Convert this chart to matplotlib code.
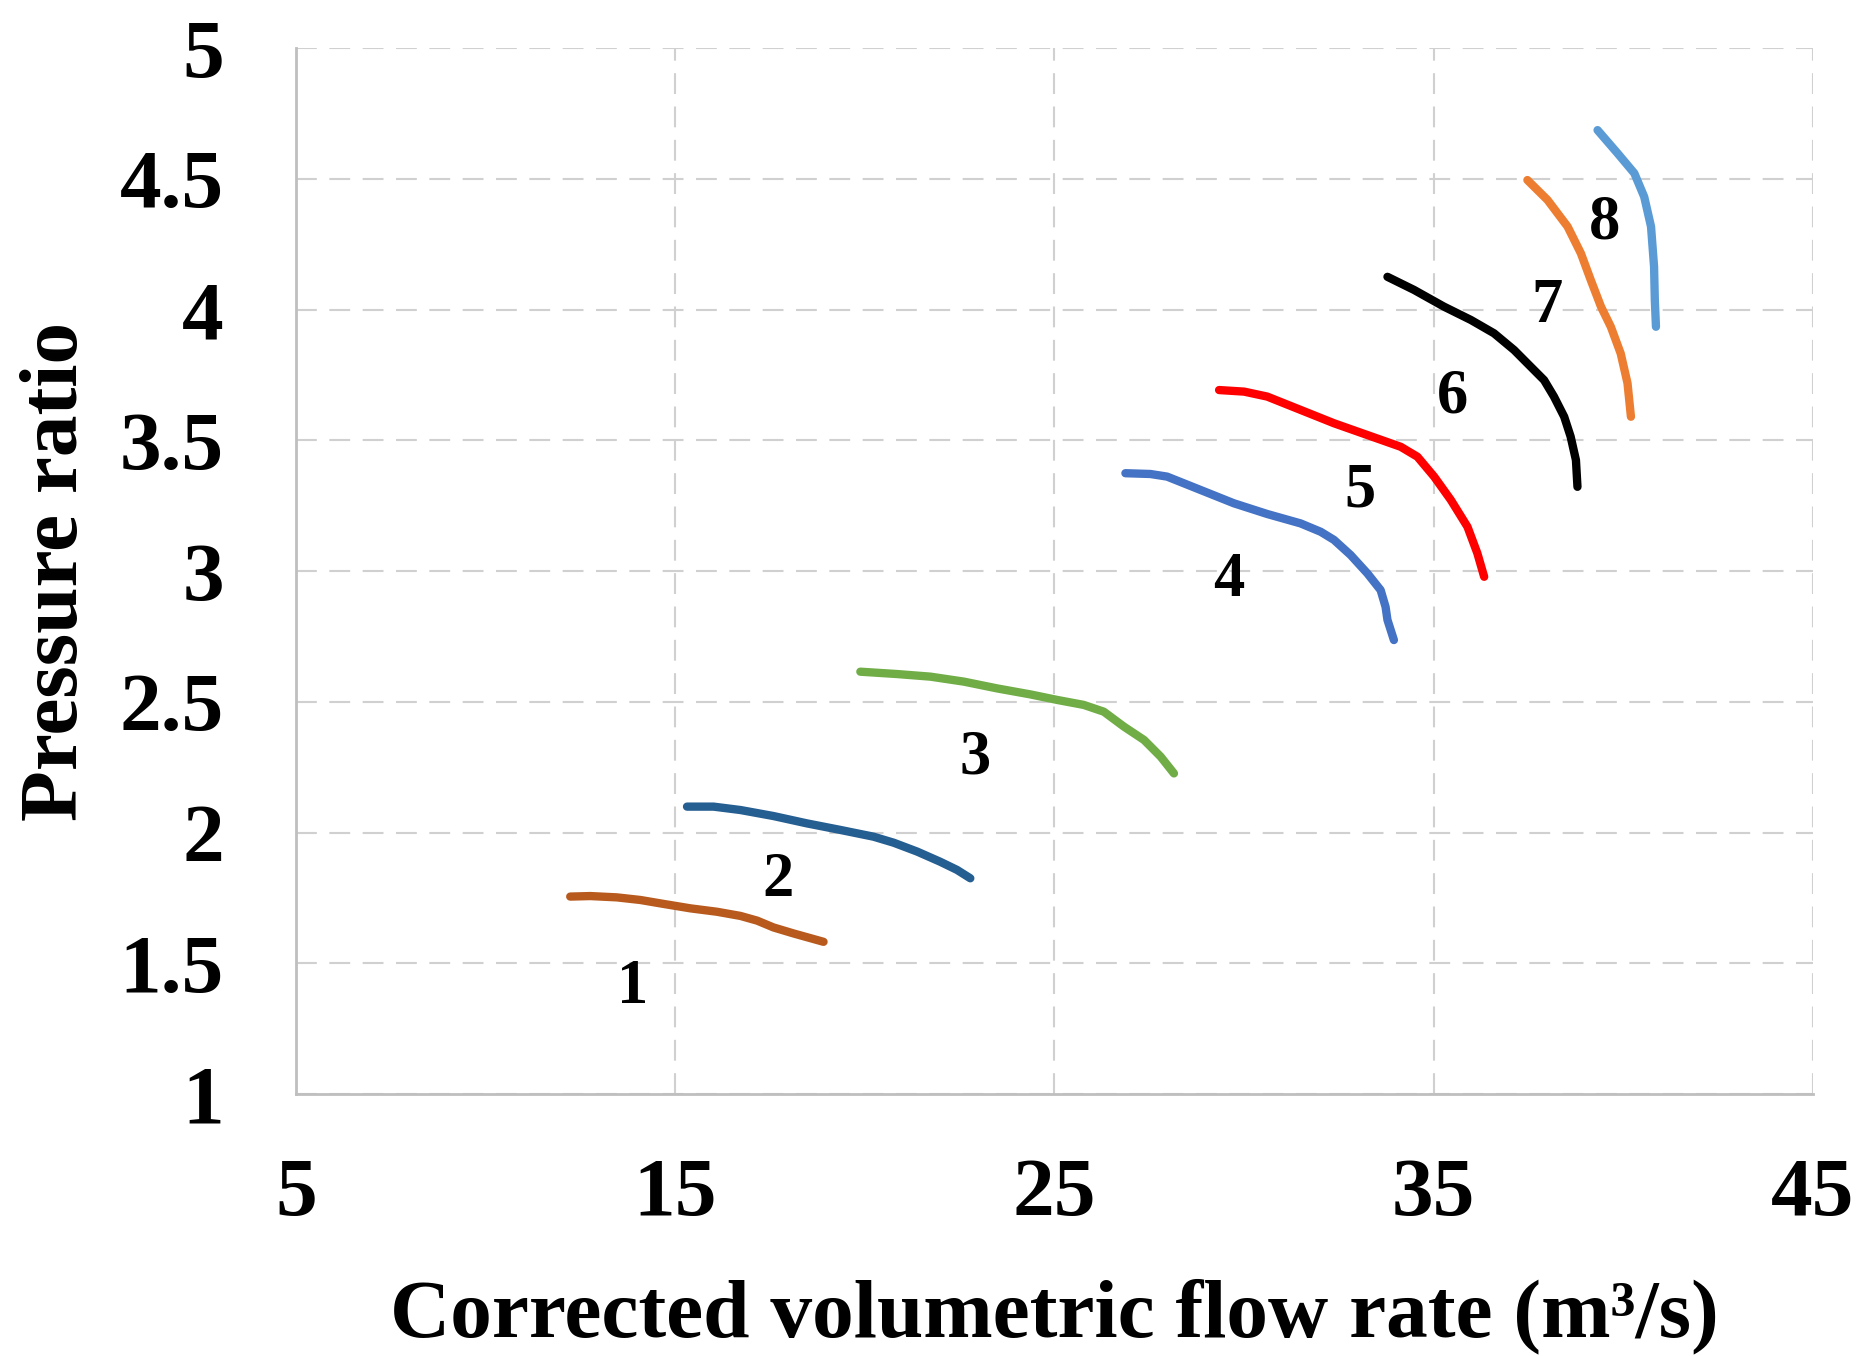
import matplotlib
matplotlib.use("Agg")
from matplotlib import pyplot as plt

# данные кривых
flow_1 = [12.23, 12.76, 13.46, 14.08, 14.69, 15.40, 16.10, 16.72, 17.16, 17.59, 18.12, 18.91]
pr_1 = [1.755, 1.757, 1.752, 1.742, 1.727, 1.710, 1.697, 1.681, 1.663, 1.637, 1.614, 1.582]

flow_2 = [15.31, 16.01, 16.72, 17.59, 18.47, 19.35, 20.23, 20.76, 21.38, 21.99, 22.43, 22.78]
pr_2 = [2.099, 2.099, 2.086, 2.063, 2.035, 2.010, 1.984, 1.961, 1.927, 1.888, 1.857, 1.825]

flow_3 = [19.88, 20.85, 21.73, 22.61, 23.49, 24.37, 25.07, 25.77, 26.30, 26.83, 27.36, 27.80, 28.15]
pr_3 = [2.615, 2.606, 2.596, 2.577, 2.551, 2.528, 2.507, 2.488, 2.462, 2.405, 2.354, 2.290, 2.226]

flow_4 = [26.87, 27.53, 27.97, 28.85, 29.73, 30.61, 31.49, 32.02, 32.37, 32.81, 33.25, 33.60, 33.73, 33.78, 33.95]
pr_4 = [3.374, 3.371, 3.361, 3.310, 3.259, 3.218, 3.182, 3.150, 3.119, 3.061, 2.991, 2.927, 2.863, 2.813, 2.736]

flow_5 = [29.34, 30.00, 30.61, 31.49, 32.37, 33.25, 34.13, 34.57, 35.01, 35.45, 35.89, 36.15, 36.33]
pr_5 = [3.692, 3.686, 3.667, 3.616, 3.565, 3.520, 3.475, 3.437, 3.361, 3.272, 3.169, 3.068, 2.978]

flow_6 = [33.78, 34.48, 35.27, 35.98, 36.59, 37.12, 37.47, 37.91, 38.17, 38.44, 38.61, 38.75, 38.79]
pr_6 = [4.125, 4.075, 4.011, 3.960, 3.909, 3.845, 3.794, 3.730, 3.667, 3.590, 3.514, 3.424, 3.322]

flow_7 = [37.47, 38.00, 38.53, 38.88, 39.14, 39.41, 39.67, 39.93, 40.11, 40.20]
pr_7 = [4.495, 4.419, 4.317, 4.215, 4.113, 4.011, 3.934, 3.832, 3.718, 3.590]

flow_8 = [39.32, 39.85, 40.29, 40.55, 40.73, 40.81, 40.83, 40.86]
pr_8 = [4.686, 4.597, 4.521, 4.431, 4.317, 4.164, 4.036, 3.934]

curve_names = ['1', '2', '3', '4', '5', '6', '7', '8']
label_x = [13.87, 17.7, 22.92, 29.6, 33.05, 35.5, 37.99, 39.5]
label_y = [1.406, 1.816, 2.282, 2.961, 3.303, 3.664, 4.01, 4.33]

x_ticks = [5, 15, 25, 35, 45]
y_ticks = [1, 1.5, 2, 2.5, 3, 3.5, 4, 4.5, 5]
y_tick_labels = ['1', '1.5', '2', '2.5', '3', '3.5', '4', '4.5', '5']

colors = ['#B85A1E', '#255E91', '#70AD47', '#4472C4', '#FF0000', '#000000', '#ED7D31', '#5B9BD5']

fig = plt.figure(figsize=(18.7, 13.56), dpi=100)
ax = fig.add_axes([0.1583, 0.1932, 0.8112, 0.7714])

curves = [(flow_1, pr_1), (flow_2, pr_2), (flow_3, pr_3), (flow_4, pr_4),
          (flow_5, pr_5), (flow_6, pr_6), (flow_7, pr_7), (flow_8, pr_8)]
for (fx, fy), c in zip(curves, colors):
    ax.plot(fx, fy, color=c, linewidth=6, solid_capstyle='round', solid_joinstyle='round', zorder=3)

# подписи номеров кривых
for name, lx, ly in zip(curve_names, label_x, label_y):
    ax.text(lx, ly, name, fontsize=45, fontweight='bold', family='Liberation Serif',
            ha='center', va='center', zorder=4)

ax.set_xlim(5, 45)
ax.set_ylim(1, 5)
ax.set_xticks(x_ticks)
ax.set_yticks(y_ticks)
ax.set_yticklabels(y_tick_labels)
ax.grid(True, color='#D0D0D0', linestyle=(0, (10, 6)), linewidth=1.5)
ax.set_axisbelow(True)

for s in ['top', 'right']:
    ax.spines[s].set_visible(False)
for s in ['left', 'bottom']:
    ax.spines[s].set_color('#BFBFBF')
    ax.spines[s].set_linewidth(2)

ax.tick_params(length=0, labelsize=60)
ax.tick_params(axis='x', pad=46)
ax.tick_params(axis='y', pad=52)
for lab in ax.get_xticklabels() + ax.get_yticklabels():
    lab.set_family('Liberation Serif')
    lab.set_fontweight('bold')

ax.set_xlabel('Corrected volumetric flow rate (m³/s)', fontsize=60,
              fontweight='bold', family='Liberation Serif', va='baseline')
ax.xaxis.set_label_coords(0.5, -0.232)
ax.set_ylabel('Pressure ratio', fontsize=60, fontweight='bold', family='Liberation Serif', va='center')
ax.yaxis.set_label_coords(-0.157, 0.5)

fig.savefig('out.png', dpi=100)
